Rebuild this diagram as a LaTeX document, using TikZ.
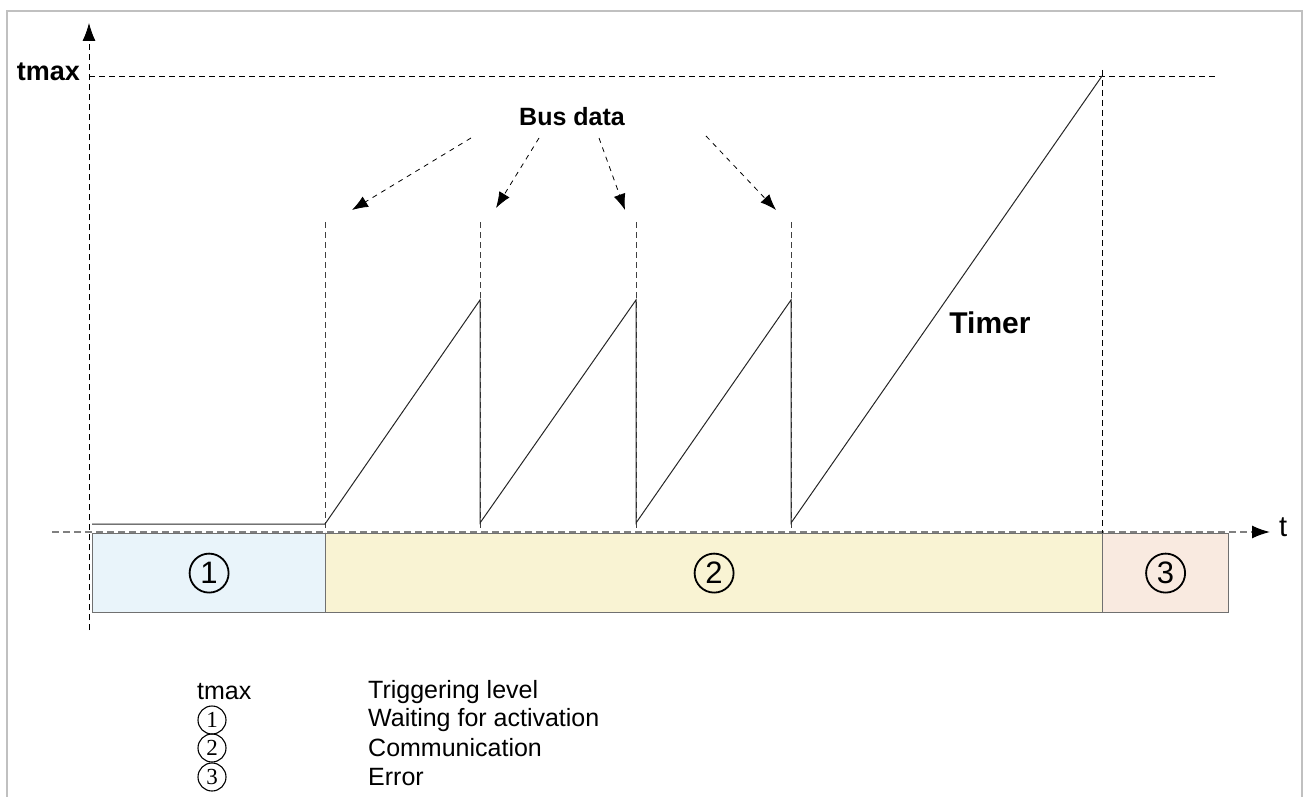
\documentclass[tikz,border=0pt]{standalone}
\usepackage{fontspec}
\setmainfont{Liberation Sans}
\newfontfamily\legendserif{Liberation Serif}
\usetikzlibrary{arrows.meta,positioning}

\definecolor{waitblue}{RGB}{233,244,250}
\definecolor{commyellow}{RGB}{249,243,211}
\definecolor{errpink}{RGB}{249,234,224}
\definecolor{boxgray}{RGB}{112,112,112}
\definecolor{framegray}{RGB}{192,192,192}

\tikzset{
  guide/.style={dash pattern=on 6pt off 4pt, line width=0.8pt},
  axisline/.style={draw=gray, dash pattern=on 7pt off 4pt, line width=1.6pt},
  tip/.style={-{Latex[length=18pt,width=13pt,color=black]}},
  busarrow/.style={dash pattern=on 5pt off 5pt, line width=0.8pt, -{Latex[length=16pt,width=12pt]}},
  phase/.style={draw=boxgray, line width=1.2pt, minimum height=79pt, inner sep=0pt, anchor=north west},
  bigdigit/.style={circle, draw, line width=1.8pt, minimum size=39pt, inner sep=0pt, font=\fontsize{31}{31}\selectfont},
  smalldigit/.style={circle, draw, line width=1.1pt, minimum size=28pt, inner sep=0pt, font=\legendserif\fontsize{23}{23}\selectfont},
  legendtext/.style={anchor=west, inner sep=0pt, font=\fontsize{25}{28}\selectfont},
  timerline/.style={line width=1pt, black!85},
}

\begin{document}
\begin{tikzpicture}[x=1pt,y=-1pt]
  \useasboundingbox (0,0) rectangle (1309,797);
  \draw[framegray, line width=2pt] (7,797) -- (7,11) -- (1302,11) -- (1302,797);

  % phases below the time axis
  \node[phase, fill=waitblue, minimum width=233pt] (wait) at (92,533) {};
  \node[phase, fill=commyellow, minimum width=777pt] (comm) at (325,533) {};
  \node[phase, fill=errpink, minimum width=126pt] (err) at (1102,533) {};
  \node[bigdigit] (d1) at (wait.center) {1};
  \node[bigdigit] (d2) at (comm.center) {2};
  \node[bigdigit] (d3) at (err.center) {3};

  % axes
  \coordinate (yfoot) at (89,630);
  \coordinate (ytop) at (89,23);
  \draw[guide, tip] (yfoot) -- (ytop);
  \coordinate (xstart) at (52,532);
  \coordinate (xend) at (1270,532);
  \draw[axisline, tip] (xstart) -- (xend);
  \node[anchor=west, inner sep=0pt, font=\fontsize{29}{29}\selectfont] (tlbl) at (1279,527) {t};

  % trigger level
  \node[anchor=east, inner sep=0pt, font=\bfseries\fontsize{27}{27}\selectfont] (tmaxlbl) at (80,72) {tmax};
  \coordinate (tmaxa) at (89,76);
  \coordinate (tmaxb) at (1215,76);
  \draw[guide, line width=0.7pt] (tmaxa) -- (tmaxb);
  \draw[guide, line width=0.7pt] (1102,70) -- (1102,533);

  % bus data instants
  \foreach \x [count=\i] in {325,480,636,791} {
    \coordinate (bus\i) at (\x,222);
    \coordinate (foot\i) at (\x,532);
    \draw[guide, black!75] (bus\i) -- (foot\i);
  }

  % timer sawtooth
  \coordinate (t0) at (92,524);
  \coordinate (r1) at (325,524);
  \coordinate (p1) at (480,300);
  \coordinate (r2) at (480,523);
  \coordinate (p2) at (636,300);
  \coordinate (r3) at (636,523);
  \coordinate (p3) at (791,300);
  \coordinate (r4) at (791,523);
  \coordinate (tend) at (1102,76);
  \draw[timerline] (t0) -- (r1) -- (p1) -- (r2) -- (p2) -- (r3) -- (p3) -- (r4) -- (tend);
  \node[font=\bfseries\fontsize{30}{30}\selectfont] (timerlbl) at (990,323) {Timer};

  \node[font=\bfseries\fontsize{25}{25}\selectfont] (busdata) at (572,117) {Bus data};
  \coordinate (bd1) at (471,138);
  \coordinate (bd2) at (539,138);
  \coordinate (bd3) at (599,138);
  \coordinate (bd4) at (706,136);
  \coordinate (hit1) at (352,210);
  \coordinate (hit2) at (496,208);
  \coordinate (hit3) at (625,210);
  \coordinate (hit4) at (776,210);
  \foreach \i in {1,...,4}
    \draw[busarrow] (bd\i) -- (hit\i);

  % legend
  \node[legendtext] (lg0) at (197,692) {tmax};
  \node[smalldigit] (lg1) at (212,720) {1};
  \node[smalldigit] (lg2) at (212,748) {2};
  \node[smalldigit] (lg3) at (212,777) {3};
  \node[legendtext] (lt0) at (368,692) {Triggering level};
  \node[legendtext] (lt1) at (368,720) {Waiting for activation};
  \node[legendtext] (lt2) at (368,748) {Communication};
  \node[legendtext] (lt3) at (368,777) {Error};
\end{tikzpicture}
\end{document}
